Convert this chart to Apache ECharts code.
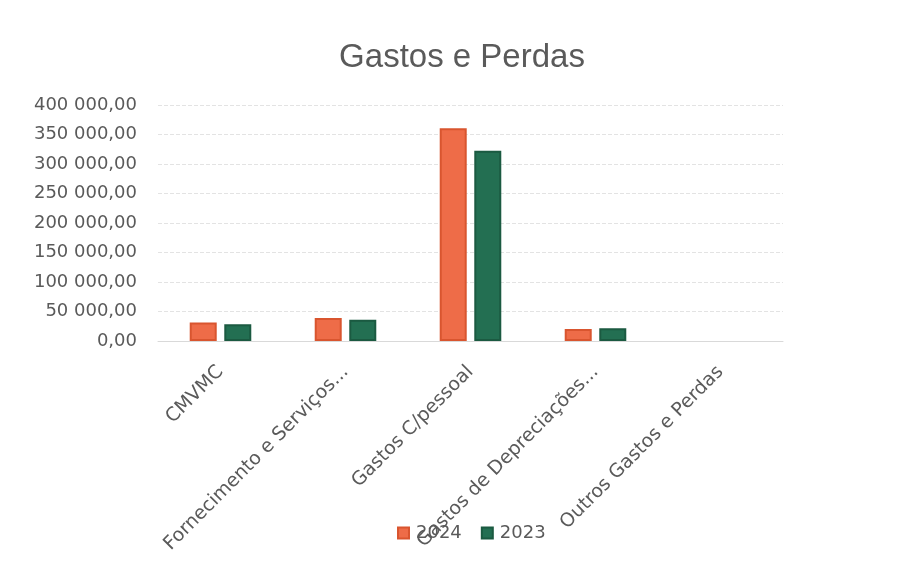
<!DOCTYPE html>
<html>
<head>
<meta charset="utf-8">
<script src="https://cdn.jsdelivr.net/npm/echarts@6/dist/echarts.min.js"></script>
<style>
  html, body { margin: 0; padding: 0; background: #ffffff; }
  #chart { width: 901px; height: 563px; }
</style>
</head>
<body>
<div id="chart"></div>
<script>
    var categories = ['CMVMC', 'Fornecimento e Serviços...', 'Gastos C/pessoal', 'Gastos de Depreciações...', 'Outros Gastos e Perdas'];
    var values2024 = [31500, 39000, 360500, 20300, 0];
    var values2023 = [28300, 36000, 322500, 21500, 0];
    var yTicks = { min: 0, max: 400000, interval: 50000 };

    function fmt(v) {
        var parts = v.toFixed(2).split('.');
        var int = parts[0].replace(/\B(?=(\d{3})+(?!\d))/g, ' ');
        return int + ',' + parts[1];
    }

    // zero values get no outline, like the original
    function toData(arr) {
        return arr.map(function (v) {
            return v === 0 ? { value: 0, itemStyle: { borderWidth: 0 } } : v;
        });
    }

    var chart = echarts.init(document.getElementById('chart'));
    var font = 'DejaVu Sans, sans-serif';
    var option = {
        backgroundColor: '#ffffff',
        animation: false,
        title: {
            text: 'Gastos e Perdas',
            left: 457,
            textAlign: 'center',
            top: 36,
            textStyle: { fontFamily: 'Liberation Sans, Arial, sans-serif', fontSize: 33, fontWeight: 'normal', color: '#5a5a5a' }
        },
        legend: {
            data: ['2024', '2023'],
            left: 392,
            top: 519,
            itemWidth: 11,
            itemHeight: 11,
            itemGap: 19,
            icon: 'rect',
            textStyle: { fontFamily: font, fontSize: 18, color: '#5a5a5a', padding: [0, 0, 0, 2] }
        },
        grid: { left: 158, right: 118, top: 105, bottom: 222, containLabel: false },
        xAxis: {
            type: 'category',
            data: categories,
            axisLine: { lineStyle: { color: '#d9d9d9' } },
            axisTick: { show: false },
            axisLabel: {
                rotate: 45,
                interval: 0,
                margin: 28,
                fontFamily: font,
                fontSize: 19,
                color: '#5a5a5a'
            }
        },
        yAxis: {
            type: 'value',
            min: yTicks.min,
            max: yTicks.max,
            interval: yTicks.interval,
            axisLine: { show: false },
            axisTick: { show: false },
            splitLine: { lineStyle: { color: '#e3e3e3', type: 'dashed', width: 1 } },
            axisLabel: {
                margin: 21,
                fontFamily: font,
                fontSize: 18,
                color: '#5a5a5a',
                formatter: fmt
            }
        },
        series: [{
            name: '2024',
            type: 'bar',
            data: toData(values2024),
            barWidth: 27,
            barGap: '28%',
            itemStyle: { color: '#ee6c48', borderColor: '#d9552f', borderWidth: 2 }
        }, {
            name: '2023',
            type: 'bar',
            data: toData(values2023),
            barWidth: 27,
            itemStyle: { color: '#236f52', borderColor: '#1b5a41', borderWidth: 2 }
        }]
    };
    chart.setOption(option);
</script>
</body>
</html>
